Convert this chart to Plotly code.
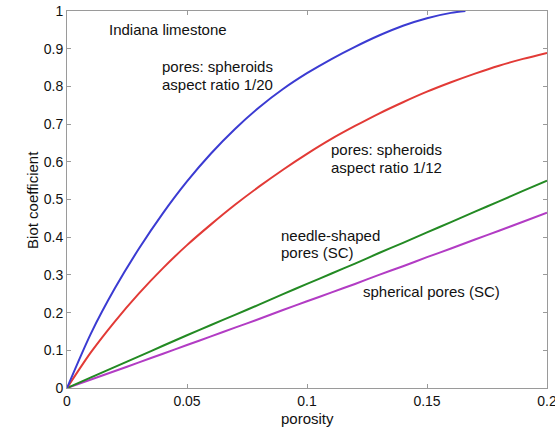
import plotly.graph_objects as go

# ---- data ----
porosity = [0.00, 0.01, 0.02, 0.03, 0.04, 0.05, 0.06, 0.07, 0.08, 0.09, 0.10,
            0.11, 0.12, 0.13, 0.14, 0.15, 0.16, 0.17, 0.18, 0.19, 0.20]

blue_x = [0.00, 0.01, 0.02, 0.03, 0.04, 0.05, 0.06, 0.07, 0.08, 0.09, 0.10,
          0.11, 0.12, 0.13, 0.14, 0.15, 0.16, 0.166]
biot_spheroid_20 = [0.0, 0.145, 0.265, 0.370, 0.464, 0.548, 0.622, 0.687, 0.744, 0.793, 0.835,
                    0.872, 0.905, 0.935, 0.961, 0.981, 0.995, 1.0]

biot_spheroid_12 = [0.0, 0.095, 0.177, 0.251, 0.318, 0.379, 0.434, 0.486, 0.534, 0.579, 0.621,
                    0.660, 0.695, 0.728, 0.758, 0.786, 0.811, 0.834, 0.855, 0.873, 0.889]

biot_needle = [0.0, 0.028, 0.056, 0.084, 0.112, 0.140, 0.167, 0.194, 0.221, 0.249, 0.276,
               0.303, 0.330, 0.358, 0.385, 0.413, 0.440, 0.468, 0.495, 0.523, 0.550]

biot_spherical = [0.0, 0.0225, 0.045, 0.068, 0.091, 0.114, 0.137, 0.160, 0.183, 0.207, 0.230,
                  0.253, 0.276, 0.300, 0.323, 0.347, 0.370, 0.394, 0.417, 0.441, 0.465]

x_ticks = [0, 0.05, 0.1, 0.15, 0.2]
x_tick_text = ["0", "0.05", "0.1", "0.15", "0.2"]
y_ticks = [0, 0.1, 0.2, 0.3, 0.4, 0.5, 0.6, 0.7, 0.8, 0.9, 1.0]
y_tick_text = ["0", "0.1", "0.2", "0.3", "0.4", "0.5", "0.6", "0.7", "0.8", "0.9", "1"]

# ---- figure ----
FONT = "Liberation Sans, Arial, Helvetica, sans-serif"
fig = go.Figure()

series = [
    (porosity, biot_spherical, "#b23cc4"),
    (porosity, biot_needle, "#238a23"),
    (porosity, biot_spheroid_12, "#e23a36"),
    (blue_x, biot_spheroid_20, "#3b3bd2"),
]
for xs, ys, col in series:
    fig.add_trace(go.Scatter(x=xs, y=ys, mode="lines",
                             line=dict(color=col, width=2, shape="spline", smoothing=0.8),
                             showlegend=False, hoverinfo="skip"))

labels = [
    ("Indiana limestone", 0.0167, 0.952),
    ("pores: spheroids", 0.0388, 0.854),
    ("aspect ratio 1/20", 0.0388, 0.806),
    ("pores: spheroids", 0.109, 0.633),
    ("aspect ratio 1/12", 0.109, 0.585),
    ("needle-shaped", 0.0883, 0.405),
    ("pores (SC)", 0.0883, 0.359),
    ("spherical pores (SC)", 0.1225, 0.255),
]
for txt, lx, ly in labels:
    fig.add_annotation(x=lx, y=ly, text=txt, showarrow=False, xanchor="left",
                       yanchor="middle", font=dict(family=FONT, size=15, color="#111"))

fig.add_annotation(xref="paper", yref="paper", x=0.5, y=-0.082, text="porosity",
                   showarrow=False, xanchor="center", yanchor="middle",
                   font=dict(family=FONT, size=15, color="#111"))
fig.add_annotation(xref="paper", yref="paper", x=-0.072, y=0.5, text="Biot coefficient",
                   textangle=-90, showarrow=False, xanchor="center", yanchor="middle",
                   font=dict(family=FONT, size=15, color="#111"))

axis_common = dict(showline=True, mirror="ticks", linecolor="#9a9a9a", linewidth=1,
                   ticks="inside", ticklen=4, tickcolor="#9a9a9a", showgrid=False,
                   zeroline=False, ticklabeloverflow="allow", automargin=False,
                   tickfont=dict(family=FONT, size=14, color="#111"))

fig.update_xaxes(range=[0, 0.2], tickvals=x_ticks, ticktext=x_tick_text, **axis_common)
fig.update_yaxes(range=[0, 1.0], tickvals=y_ticks, ticktext=y_tick_text, **axis_common)

fig.update_layout(width=555, height=432, margin=dict(l=67, r=8, t=11, b=44, autoexpand=False),
                  plot_bgcolor="white", paper_bgcolor="white",
                  font=dict(family=FONT))

fig.write_html("out.html")
